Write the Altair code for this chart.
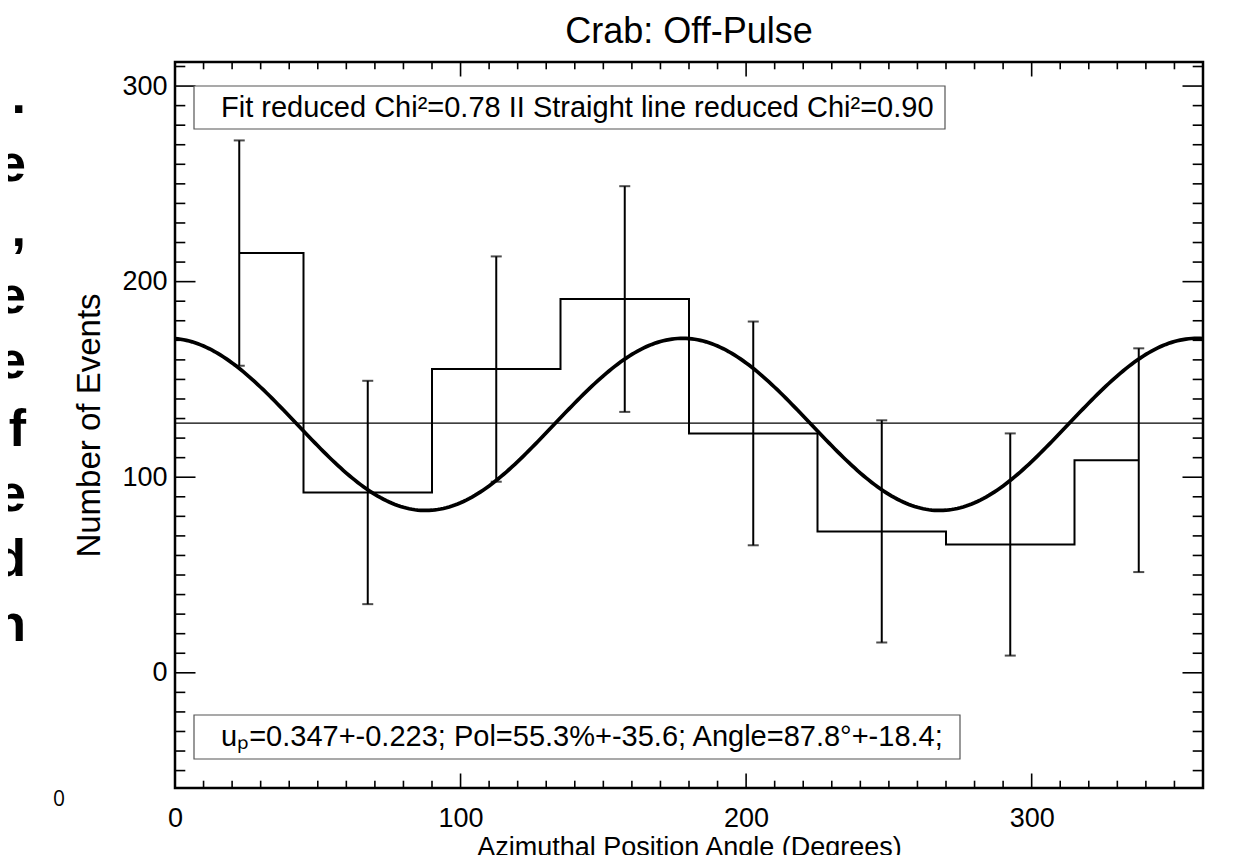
import altair as alt
import numpy as np
import pandas as pd

# ---------------- data ----------------
bin_centers = [22.5, 67.5, 112.5, 157.5, 202.5, 247.5, 292.5, 337.5]
counts = [214.6, 92.2, 155.3, 191.1, 122.4, 72.3, 65.6, 108.7]
errors = [57.6, 57.1, 57.6, 57.7, 57.2, 56.8, 56.8, 57.2]
mean_level = 127.7          # straight-line fit
fit_mean = 127.0            # modulation-curve fit parameters
fit_amp = 44.0
fit_angle = 87.8            # degrees (minimum of the curve)

x_major = [0, 100, 200, 300]
y_major = [0, 100, 200, 300]
x_minor = [v for v in range(10, 360, 10) if v % 100]
y_minor = [v for v in range(-50, 320, 10) if v % 100]

title_text = "Crab: Off-Pulse"
x_title = "Azimuthal Position Angle (Degrees)"
y_title = "Number of Events"
box1_text = "Fit reduced Chi\u00b2=0.78 II Straight line reduced Chi\u00b2=0.90"
box2_text = "u\u209a=0.347+-0.223; Pol=55.3%+-35.6; Angle=87.8\u00b0+-18.4;"
side_chars = [".", "e", ",", "e", "e", "f", "e", "d", "n"]
stray_label = "0"

# ---------------- layout ----------------
W, H = 1028, 726
X_DOMAIN = [0, 360]
Y_DOMAIN = [-58.9, 312.3]
SANS = "Liberation Sans, Arial, Helvetica, sans-serif"

xs = alt.Scale(domain=X_DOMAIN, nice=False, zero=False)
ys = alt.Scale(domain=Y_DOMAIN, nice=False, zero=False)

df = pd.DataFrame({"angle": bin_centers, "count": counts, "err": errors})
df["lo"] = df["count"] - df["err"]
df["hi"] = df["count"] + df["err"]

phi = np.arange(0, 361, 1.0)
fit_df = pd.DataFrame({
    "angle": phi,
    "model": fit_mean - fit_amp * np.cos(np.radians(2 * (phi - fit_angle))),
})

x_axis = alt.Axis(values=x_major, ticks=False, tickSize=0, domain=False, grid=False,
                  labelFlush=False, labelPadding=17, labelFont=SANS, labelFontSize=27,
                  labelColor="black", title=x_title, titleFont=SANS, titleFontSize=27,
                  titleFontWeight="normal", titleColor="black", titlePadding=3, format="d")
y_axis = alt.Axis(values=y_major, ticks=False, tickSize=0, domain=False, grid=False,
                  labelFlush=False, labelPadding=8, labelFont=SANS, labelFontSize=27,
                  labelColor="black", title=y_title, titleFont=SANS, titleFontSize=33,
                  titleFontWeight="normal", titleColor="black", titlePadding=15, format="d")

hist = alt.Chart(df).mark_line(interpolate="step", color="black", strokeWidth=2).encode(
    x=alt.X("angle:Q", scale=xs, axis=x_axis),
    y=alt.Y("count:Q", scale=ys, axis=y_axis),
)

bars = alt.Chart(df).mark_rule(color="black", strokeWidth=2).encode(
    x=alt.X("angle:Q", scale=xs),
    y=alt.Y("lo:Q", scale=ys),
    y2="hi:Q",
)
cap_lo = alt.Chart(df).mark_tick(color="black", orient="horizontal", size=11, thickness=2).encode(
    x=alt.X("angle:Q", scale=xs),
    y=alt.Y("lo:Q", scale=ys),
)
cap_hi = alt.Chart(df).mark_tick(color="black", orient="horizontal", size=11, thickness=2).encode(
    x=alt.X("angle:Q", scale=xs),
    y=alt.Y("hi:Q", scale=ys),
)

fit = alt.Chart(fit_df).mark_line(color="black", strokeWidth=3.7).encode(
    x=alt.X("angle:Q", scale=xs),
    y=alt.Y("model:Q", scale=ys),
)

mean_line = alt.Chart(pd.DataFrame({"m": [mean_level]})).mark_rule(color="black", strokeWidth=1.2).encode(
    y=alt.Y("m:Q", scale=ys),
    x=alt.value(0), x2=alt.value(W),
)

# inward box ticks (IDL style)
XMAJ, XMIN = 14.5, 7.3
YMAJ, YMIN = 20.5, 10.3


def xticks(vals, length, top):
    d = pd.DataFrame({"v": vals})
    if top:
        yy, yy2 = alt.value(0), alt.value(length)
    else:
        yy, yy2 = alt.value(H), alt.value(H - length)
    return alt.Chart(d).mark_rule(color="black", strokeWidth=1.6).encode(
        x=alt.X("v:Q", scale=xs), y=yy, y2=yy2)


def yticks(vals, length, right):
    d = pd.DataFrame({"v": vals})
    if right:
        xx, xx2 = alt.value(W), alt.value(W - length)
    else:
        xx, xx2 = alt.value(0), alt.value(length)
    return alt.Chart(d).mark_rule(color="black", strokeWidth=1.6).encode(
        y=alt.Y("v:Q", scale=ys), x=xx, x2=xx2)


tick_layers = [
    xticks(x_major, XMAJ, False), xticks(x_minor, XMIN, False),
    xticks(x_major, XMAJ, True), xticks(x_minor, XMIN, True),
    yticks(y_major, YMAJ, False), yticks(y_minor, YMIN, False),
    yticks(y_major, YMAJ, True), yticks(y_minor, YMIN, True),
]


def box(x0, x1, y0, y1):
    return alt.Chart(pd.DataFrame({"b": [0]})).mark_rect(
        fill="white", stroke="#555555", strokeWidth=1.2).encode(
        x=alt.value(x0), x2=alt.value(x1), y=alt.value(y0), y2=alt.value(y1))


def label(txt, x, y, size, font=SANS, align="left", weight="normal", color="black"):
    return alt.Chart(pd.DataFrame({"t": [txt]})).mark_text(
        align=align, baseline="middle", font=font, fontSize=size,
        fontWeight=weight, color=color).encode(
        x=alt.value(x), y=alt.value(y), text="t:N")


annot = [
    box(19, 770, 24, 67),
    label(box1_text, 46, 46, 29),
    box(19, 785, 653, 697),
    label(box2_text, 46, 675, 29),
    label(stray_label, -116, 738, 21, font="Open Sans, DejaVu Sans, sans-serif", align="center"),
]

side_y = [35, 103, 168, 235, 300, 368, 433, 498, 563]
for ch, yy in zip(side_chars, side_y):
    annot.append(label(ch, -149, yy, 52, font=SANS, align="right", weight="bold"))

chart = alt.layer(
    hist, bars, cap_lo, cap_hi, fit, mean_line, *tick_layers, *annot
).properties(
    width=W, height=H,
    title=alt.TitleParams(title_text, font=SANS, fontSize=36, fontWeight="normal",
                          color="black", anchor="middle", offset=10),
    padding={"left": 167, "top": 54, "right": 40, "bottom": 75},
    autosize=alt.AutoSizeParams(type="none"),
).configure(
    background="white",
    view=alt.ViewConfig(stroke="black", strokeWidth=2.5),
    axis=alt.AxisConfig(grid=False, ticks=False, tickSize=0, domain=False,
                        labelColor="black", titleColor="black"),
)

chart.save("out.html", embed_options={"renderer": "svg", "actions": False})
